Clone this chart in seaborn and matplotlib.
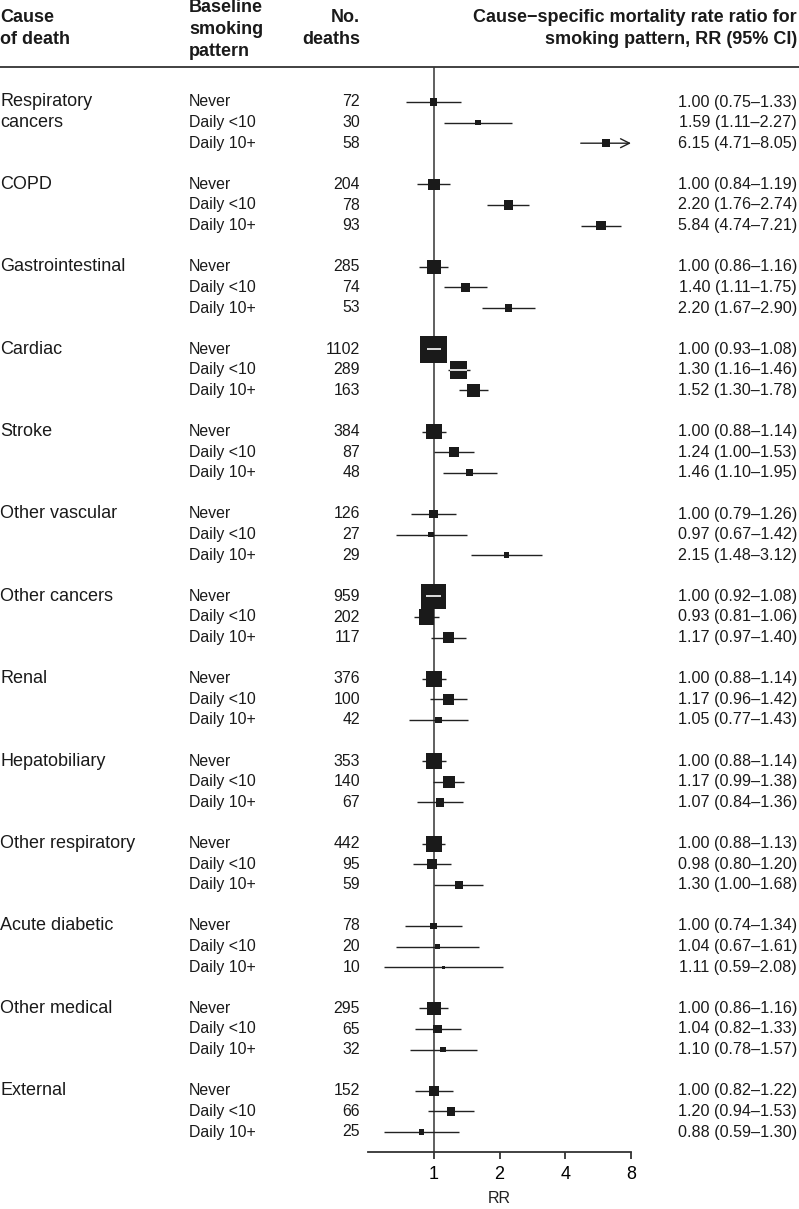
import numpy as np
import pandas as pd
import seaborn as sns
import matplotlib.pyplot as plt
from matplotlib import transforms
from matplotlib.ticker import NullLocator

sns.set_theme(style="white")
plt.rcParams["font.family"] = ["Liberation Sans", "DejaVu Sans"]

# data
causes = ["Respiratory\ncancers", "COPD", "Gastrointestinal", "Cardiac", "Stroke",
          "Other vascular", "Other cancers", "Renal", "Hepatobiliary",
          "Other respiratory", "Acute diabetic", "Other medical", "External"]
patterns = ["Never", "Daily <10", "Daily 10+"]

deaths = [72, 30, 58, 204, 78, 93, 285, 74, 53, 1102, 289, 163, 384, 87, 48,
          126, 27, 29, 959, 202, 117, 376, 100, 42, 353, 140, 67, 442, 95, 59,
          78, 20, 10, 295, 65, 32, 152, 66, 25]
rr = [1.00, 1.59, 6.15, 1.00, 2.20, 5.84, 1.00, 1.40, 2.20, 1.00, 1.30, 1.52,
      1.00, 1.24, 1.46, 1.00, 0.97, 2.15, 1.00, 0.93, 1.17, 1.00, 1.17, 1.05,
      1.00, 1.17, 1.07, 1.00, 0.98, 1.30, 1.00, 1.04, 1.11, 1.00, 1.04, 1.10,
      1.00, 1.20, 0.88]
rr_lo = [0.75, 1.11, 4.71, 0.84, 1.76, 4.74, 0.86, 1.11, 1.67, 0.93, 1.16, 1.30,
         0.88, 1.00, 1.10, 0.79, 0.67, 1.48, 0.92, 0.81, 0.97, 0.88, 0.96, 0.77,
         0.88, 0.99, 0.84, 0.88, 0.80, 1.00, 0.74, 0.67, 0.59, 0.86, 0.82, 0.78,
         0.82, 0.94, 0.59]
rr_hi = [1.33, 2.27, 8.05, 1.19, 2.74, 7.21, 1.16, 1.75, 2.90, 1.08, 1.46, 1.78,
         1.14, 1.53, 1.95, 1.26, 1.42, 3.12, 1.08, 1.06, 1.40, 1.14, 1.42, 1.43,
         1.14, 1.38, 1.36, 1.13, 1.20, 1.68, 1.34, 1.61, 2.08, 1.16, 1.33, 1.57,
         1.22, 1.53, 1.30]

rows = []
for g, cause in enumerate(causes):
    for k, pat in enumerate(patterns):
        i = g * 3 + k
        rows.append(dict(cause=cause, pattern=pat, row=g * 4 + k, n=deaths[i],
                         rr=rr[i], lo=rr_lo[i], hi=rr_hi[i]))
df = pd.DataFrame(rows)

W, H, DPI = 799, 1209, 100
fig = plt.figure(figsize=(W / DPI, H / DPI), dpi=DPI)
y_top_px, y_bot_px = 67, 1152
x_left_px, x_right_px = 368, 631
ax = fig.add_axes([x_left_px / W, 1 - y_bot_px / H,
                   (x_right_px - x_left_px) / W, (y_bot_px - y_top_px) / H])

row0_px, step_px = 102, 20.6
XMIN, XMAX = 0.5, 8
ax.set_xscale("log", base=2)
ax.set_xlim(XMIN, XMAX)
ax.set_ylim((y_bot_px - row0_px) / step_px, (y_top_px - row0_px) / step_px)

px_per_log2 = (x_right_px - x_left_px) / np.log2(XMAX / XMIN)

# box side ~ inverse of log CI width (inverse-variance weight)
df["side_px"] = 4.04 / np.log(df["hi"] / df["lo"])
df["s"] = (df["side_px"] * 72 / DPI) ** 2

ax.axvline(1, color="#444444", lw=1.2, zorder=1)

line_col = "#222222"
for _, r in df.iterrows():
    if r["hi"] > XMAX:
        ax.annotate("", xy=(XMAX, r["row"]), xytext=(r["lo"], r["row"]),
                    arrowprops=dict(arrowstyle="->", color=line_col, lw=1.0,
                                    mutation_scale=16, shrinkA=0, shrinkB=0),
                    zorder=2)
    else:
        ax.plot([r["lo"], r["hi"]], [r["row"], r["row"]], color=line_col,
                lw=1.0, zorder=2, solid_capstyle="butt")

sns.scatterplot(data=df, x="rr", y="row", s=df["s"].values, marker="s",
                color="#1a1a1a", linewidth=0, ax=ax, zorder=3, legend=False)

# white CI line across boxes that are wider than (most of) their CI
for _, r in df.iterrows():
    ci_px = px_per_log2 * np.log2(r["hi"] / r["lo"])
    if r["side_px"] > 0.75 * ci_px:
        half = r["side_px"] / 2 / px_per_log2
        a = max(r["lo"], r["rr"] * 2 ** (-half))
        b = min(r["hi"], r["rr"] * 2 ** (half))
        ax.plot([a, b], [r["row"], r["row"]], color="white", lw=1.2,
                zorder=4, solid_capstyle="butt")

for side in ["top", "left", "right"]:
    ax.spines[side].set_visible(False)
ax.spines["bottom"].set_color("#333333")
ax.spines["bottom"].set_linewidth(1.3)
ax.set_xticks([1, 2, 4, 8])
ax.set_xticklabels(["1", "2", "4", "8"])
ax.xaxis.set_minor_locator(NullLocator())
ax.set_yticks([])
ax.tick_params(axis="x", direction="out", length=5, width=1.3, color="#333333",
               pad=5, labelsize=13, labelcolor="black", bottom=True)
ax.set_xlabel("RR", fontsize=11.5, labelpad=6, color="#222222")
ax.set_ylabel("")
ax.grid(False)

# table columns
tr = transforms.blended_transform_factory(fig.transFigure, ax.transData)
for g, cause in enumerate(causes):
    for j, part in enumerate(cause.split("\n")):
        ax.text(0 / W, g * 4 + j, part, transform=tr, ha="left", va="center",
                fontsize=13, color="#1a1a1a", clip_on=False)
for _, r in df.iterrows():
    ax.text(189 / W, r["row"], r["pattern"], transform=tr, ha="left",
            va="center", fontsize=11.4, color="#1a1a1a", clip_on=False)
    ax.text(360 / W, r["row"], f"{r['n']}", transform=tr, ha="right",
            va="center", fontsize=11.4, color="#1a1a1a", clip_on=False)
    ax.text(797 / W, r["row"], f"{r['rr']:.2f} ({r['lo']:.2f}\u2013{r['hi']:.2f})",
            transform=tr, ha="right", va="center", fontsize=11.6,
            color="#1a1a1a", clip_on=False)

# header
hdr = dict(fontsize=13, fontweight="bold", color="#1a1a1a", va="center")
def fy(p):
    return 1 - p / H
fig.text(0, fy(18), "Cause", ha="left", **hdr)
fig.text(0, fy(40), "of death", ha="left", **hdr)
fig.text(189 / W, fy(7), "Baseline", ha="left", **hdr)
fig.text(189 / W, fy(29), "smoking", ha="left", **hdr)
fig.text(189 / W, fy(51), "pattern", ha="left", **hdr)
fig.text(360 / W, fy(18), "No.", ha="right", **hdr)
fig.text(360 / W, fy(40), "deaths", ha="right", **hdr)
fig.text(797 / W, fy(18), "Cause\u2212specific mortality rate ratio for", ha="right", **hdr)
fig.text(797 / W, fy(40), "smoking pattern, RR (95% CI)", ha="right", **hdr)

fig.add_artist(plt.Line2D([0, 1], [fy(y_top_px), fy(y_top_px)],
                          transform=fig.transFigure, color="#333333", lw=1.3))

fig.savefig("out.png", dpi=DPI)
